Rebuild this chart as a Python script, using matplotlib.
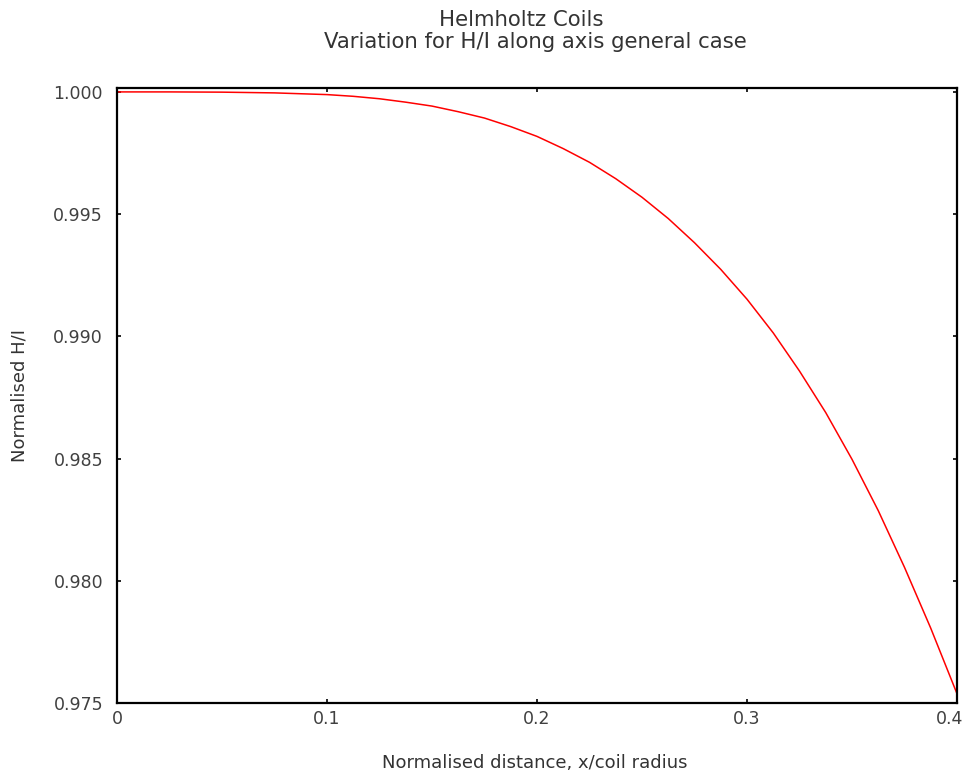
import matplotlib
matplotlib.use("Agg")
import matplotlib.pyplot as plt
from matplotlib.transforms import ScaledTranslation

plt.rcParams['font.family'] = ['DejaVu Sans']

x_vals = [0.0, 0.025, 0.05, 0.075, 0.1, 0.1125, 0.125, 0.1375, 0.15, 0.1625,
          0.175, 0.1875, 0.2, 0.2125, 0.225, 0.2375, 0.25, 0.2625, 0.275, 0.2875,
          0.3, 0.3125, 0.325, 0.3375, 0.35, 0.3625, 0.375, 0.3875, 0.4]
h_vals = [1.0000, 1.0000, 0.99999, 0.99996, 0.99989, 0.99982, 0.99972, 0.99958,
          0.99942, 0.99919, 0.99893, 0.99858, 0.99818, 0.99768, 0.99712, 0.99645,
          0.99569, 0.99482, 0.99383, 0.99274, 0.99152, 0.99014, 0.98858, 0.98688,
          0.98497, 0.98287, 0.98055, 0.97806, 0.97538]

x_ticks = [0, 0.1, 0.2, 0.3, 0.4]
x_tick_labels = ["0", "0.1", "0.2", "0.3", "0.4"]
y_ticks = [0.975, 0.980, 0.985, 0.990, 0.995, 1.000]
y_tick_labels = ["0.975", "0.980", "0.985", "0.990", "0.995", "1.000"]

title_line1 = "Helmholtz Coils"
title_line2 = "Variation for H/I along axis general case"
x_label = "Normalised distance, x/coil radius"
y_label = "Normalised H/I"

W, H = 966, 773
fig = plt.figure(figsize=(W/100, H/100), dpi=100)
ax = fig.add_axes([117/W, 1-703/H, (957-117)/W, (703-88)/H])

ax.plot(x_vals, h_vals, color="#ff0000", linewidth=1.1)

ax.set_xlim(0, 0.4)
ax.set_ylim(0.975, 1.00016)
ax.set_xticks(x_ticks)
ax.set_xticklabels(x_tick_labels)
ax.set_yticks(y_ticks)
ax.set_yticklabels(y_tick_labels)

ax.tick_params(direction='in', length=3, width=1.2, colors='black',
               top=True, right=True, labelsize=12.5, labelcolor='#404040',
               pad=5)
ax.tick_params(axis='y', pad=10)
for s in ax.spines.values():
    s.set_linewidth(1.6)
    s.set_color('black')

last = ax.get_xticklabels()[-1]
last.set_transform(last.get_transform() + ScaledTranslation(-5/72, 0, fig.dpi_scale_trans))

fig.text(521/W, 1-26.5/H, title_line1, ha='center', va='baseline',
         fontsize=15.3, color='#333333')
fig.text(535/W, 1-48.5/H, title_line2, ha='center', va='baseline',
         fontsize=15.3, color='#333333')

fig.text(535/W, 1-763/H, x_label, ha='center', va='center',
         fontsize=13, color='#333333')
fig.text(20/W, 1-395/H, y_label, ha='center', va='center',
         fontsize=13, color='#333333', rotation=90)

fig.savefig("out.png", dpi=100)
